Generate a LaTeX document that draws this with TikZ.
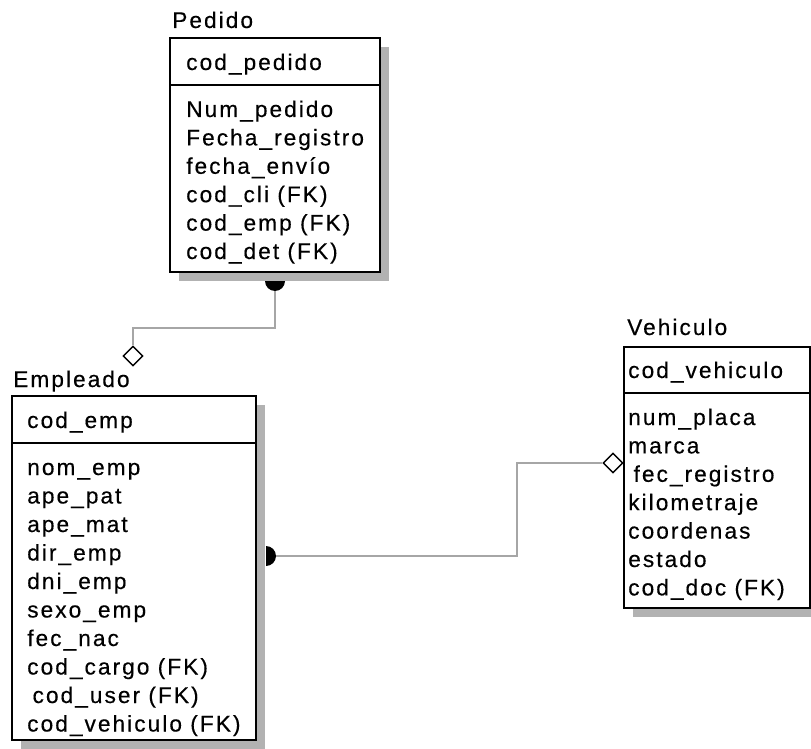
\documentclass[tikz,border=0pt]{standalone}
\usepackage{fontspec}
\newfontfamily\erfont{Liberation Sans}[LetterSpace=9,FakeBold=0.4]
\usetikzlibrary{shapes.geometric,fit}

\tikzset{
  entity/.style={draw,line width=1.5pt,fill=white,inner sep=0pt},
  entshadow/.style={fill=gray!60},
  attr/.style={anchor=base west,inner sep=0pt,font=\erfont\fontsize{17}{20}\selectfont},
  rel/.style={draw=gray!70,line width=0.8pt},
  reltip/.style={diamond,draw,line width=1.1pt,fill=white,inner sep=0pt,minimum width=15pt,minimum height=15pt}
}

\begin{document}
\begin{tikzpicture}[x=0.75pt,y=-0.75pt]
  \useasboundingbox (0,0) rectangle (811,749);

  % Pedido
  \fill[entshadow] (179,47) rectangle (389,281);
  \node[entity,fit={(170,38) (380,272)}] (pedido) {};
  \draw[line width=1.5pt] (170,85) -- (380,85);
  \node[attr] (pedidotitle) at (172,28) {Pedido};
  \node[attr] (pedidopk) at (186,70) {cod\_pedido};
  \foreach \txt [count=\i from 0] in {Num\_pedido,Fecha\_registro,fecha\_envío,cod\_cli (FK),cod\_emp (FK),cod\_det (FK)}
    \node[attr] (pedido\i) at (186,117+28.4*\i) {\txt};

  % Empleado
  \fill[entshadow] (21,405) rectangle (265,749);
  \node[entity,fit={(12,396) (256,740)}] (empleado) {};
  \draw[line width=1.5pt] (12,443) -- (256,443);
  \node[attr] (empleadotitle) at (13,387) {Empleado};
  \node[attr] (empleadopk) at (27,428) {cod\_emp};
  \foreach \txt [count=\i from 0] in {nom\_emp,ape\_pat,ape\_mat,dir\_emp,dni\_emp,sexo\_emp,fec\_nac,cod\_cargo (FK),\hspace{4pt}cod\_user (FK),cod\_vehiculo (FK)}
    \node[attr] (empleado\i) at (27,475+28.5*\i) {\txt};

  % Vehiculo
  \fill[entshadow] (633,356) rectangle (819,617);
  \node[entity,fit={(624,347) (810,608)}] (vehiculo) {};
  \draw[line width=1.5pt] (624,393) -- (810,393);
  \node[attr] (vehiculotitle) at (627,335) {Vehiculo};
  \node[attr] (vehiculopk) at (628,378) {cod\_vehiculo};
  \foreach \txt [count=\i from 0] in {num\_placa,marca,\hspace{4pt}fec\_registro,kilometraje,coordenas,estado,cod\_doc (FK)}
    \node[attr] (vehiculo\i) at (628,425+28.4*\i) {\txt};

  % relaciones
  \coordinate (pedbot) at (275,291);
  \coordinate (bend1) at (133,328);
  \node[reltip] (dia1) at (133,356) {};
  \fill (265,281) arc[start angle=180,end angle=0,radius=10] -- cycle;
  \draw[rel] (pedbot) |- (bend1) -- (dia1);

  \coordinate (empright) at (276,556);
  \coordinate (bend2) at (517,463);
  \node[reltip] (dia2) at (613,463) {};
  \fill (266,546) arc[start angle=-90,end angle=90,radius=10] -- cycle;
  \draw[rel] (empright) -| (bend2) -- (dia2);
\end{tikzpicture}
\end{document}
